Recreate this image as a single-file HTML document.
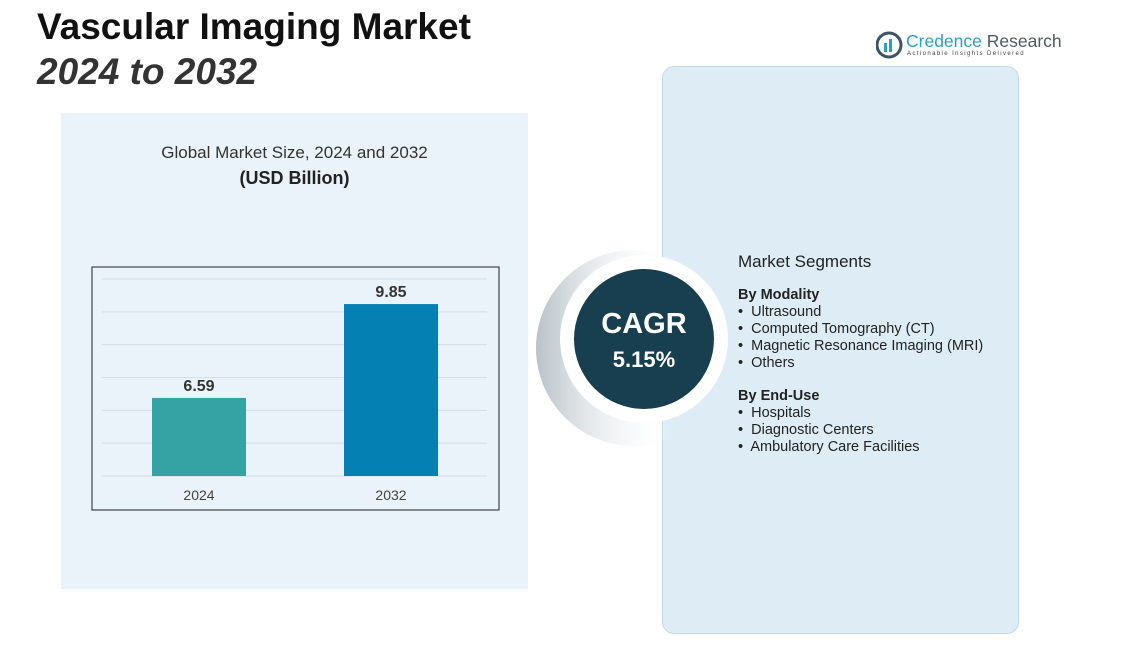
<!DOCTYPE html>
<html><head><meta charset="utf-8"><style>
body{margin:0;width:1145px;height:646px;background:#fff;position:relative;overflow:hidden;font-family:"Liberation Sans",sans-serif;}
.abs{position:absolute;}
</style></head><body>
<div class="abs" style="left:37px;top:5px;font-size:37px;font-weight:bold;color:#111;line-height:44px;">Vascular Imaging Market</div>
<div class="abs" style="left:37px;top:50px;font-size:37px;font-weight:bold;font-style:italic;color:#333;line-height:44px;">2024 to 2032</div>
<div class="abs" style="left:876px;top:30px;width:180px;height:30px;">
<svg width="28" height="28" style="position:absolute;left:0;top:1px"><circle cx="13" cy="14" r="12" fill="none" stroke="#3b5566" stroke-width="3"/><rect x="8" y="12" width="3" height="9" fill="#2aa0c8"/><rect x="13" y="8" width="3" height="13" fill="#2aa0c8"/></svg>
<div class="abs" style="left:30px;top:1px;font-size:17.5px;white-space:nowrap;"><span style="color:#2aa0c8">Credence</span> <span style="color:#4a5a66">Research</span></div>
<div class="abs" style="left:31px;top:21px;font-size:6px;letter-spacing:1.4px;color:#444;white-space:nowrap;">Actionable Insights Delivered</div>
</div>
<div class="abs" style="left:61px;top:113px;width:467px;height:476px;background:#eaf3f9;"></div>
<div class="abs" style="left:61px;top:143px;width:467px;text-align:center;font-size:17px;color:#333;">Global Market Size, 2024 and 2032</div>
<div class="abs" style="left:61px;top:168px;width:467px;text-align:center;font-size:18px;font-weight:bold;color:#222;">(USD Billion)</div>
<svg class="abs" id="chart" style="left:0;top:0" width="1145" height="646"></svg>
<div class="abs" style="left:662px;top:66px;width:355px;height:566px;background:#deedf5;border:1.5px solid #c4dbe7;border-radius:12px;"></div>
<svg class="abs" style="left:520px;top:230px" width="220" height="230">
<defs><linearGradient id="g" x1="0" y1="0" x2="1" y2="0"><stop offset="0" stop-color="#b8c2c8"/><stop offset="0.7" stop-color="#fff" stop-opacity="0"/></linearGradient></defs>
<circle cx="114" cy="118" r="98" fill="url(#g)"/>
<circle cx="124" cy="109" r="84" fill="#fff"/>
<circle cx="124" cy="109" r="70" fill="#173f50"/>
<text x="124" y="103" text-anchor="middle" font-size="29" font-weight="bold" fill="#fff" font-family="Liberation Sans">CAGR</text>
<text x="124" y="137" text-anchor="middle" font-size="22" font-weight="bold" fill="#fff" font-family="Liberation Sans">5.15%</text>
</svg>
<div class="abs" style="left:738px;top:253px;font-size:14.5px;color:#222;line-height:17px;">
<div style="font-size:17px;margin-bottom:17px;">Market Segments</div>
<div style="font-weight:bold;">By Modality</div>
<div>•&nbsp; Ultrasound</div><div>•&nbsp; Computed Tomography (CT)</div><div>•&nbsp; Magnetic Resonance Imaging (MRI)</div><div>•&nbsp; Others</div>
<div style="font-weight:bold;margin-top:16px;">By End-Use</div>
<div>•&nbsp; Hospitals</div><div>•&nbsp; Diagnostic Centers</div><div>•&nbsp; Ambulatory Care Facilities</div>
</div>
<script>
const categories=["2024","2032"];
const values=[6.59,9.85];
const labels=["6.59","9.85"];
const colors=["#35a3a4","#0580b2"];
const svg=document.getElementById('chart');const NS="http://www.w3.org/2000/svg";
const yMin=3.88,yMax=10.72,y0=476,y1=279;
const y=v=>y0-(v-yMin)/(yMax-yMin)*(y0-y1);
const x=i=>199+i*192;
function mk(t,a){const e=document.createElementNS(NS,t);for(const k in a)e.setAttribute(k,a[k]);svg.appendChild(e);return e;}
for(let i=0;i<7;i++){const gy=y1+i*(y0-y1)/6;const l=mk('line',{x1:102,x2:487,y1:gy,y2:gy,stroke:'#d4dde3','stroke-width':1});

}
const fr=mk('rect',{x:92,y:267,width:407,height:243,fill:'none',stroke:'#222','stroke-width':1});


categories.forEach((c,i)=>{
const b=mk('rect',{x:x(i)-47,y:y(values[i]),width:94,height:y0-y(values[i]),fill:colors[i]});


const t=mk('text',{x:x(i),y:y(values[i])-7,'text-anchor':'middle','font-size':16,'font-weight':'bold',fill:'#333','font-family':'Liberation Sans'});t.textContent=labels[i];


const xl=mk('text',{x:x(i),y:500,'text-anchor':'middle','font-size':14,fill:'#444','font-family':'Liberation Sans'});xl.textContent=c;


});
</script>
</body></html>
